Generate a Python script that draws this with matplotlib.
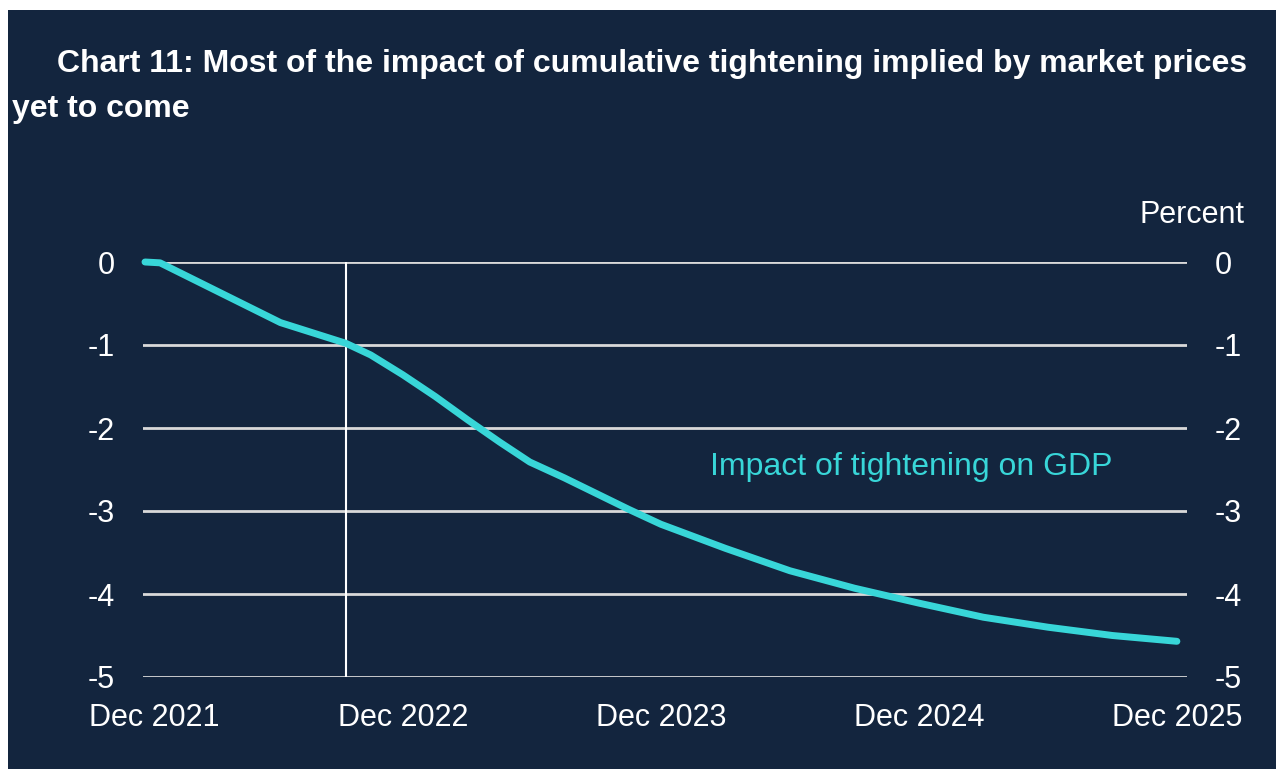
import matplotlib
matplotlib.use("Agg")
import matplotlib.pyplot as plt
from matplotlib.patches import Rectangle
from matplotlib.transforms import ScaledTranslation

plt.rcParams['font.family'] = ['Liberation Sans', 'DejaVu Sans']

# Months elapsed since Dec 2021 and the cumulative GDP impact (percent)
months = [0, 0.7, 6.3, 9.35, 10.5, 12, 13.5, 15, 16.5, 17.9, 19.5, 21, 22.5, 24,
          27, 30, 33, 36, 39, 42, 45, 48]
impact = [0.0, -0.01, -0.73, -0.98, -1.12, -1.36, -1.62, -1.90, -2.17, -2.41,
          -2.60, -2.79, -2.98, -3.16, -3.45, -3.72, -3.93, -4.11, -4.28, -4.40,
          -4.50, -4.57]

year_ticks = [0, 12, 24, 36, 48]
year_labels = ['Dec 2021', 'Dec 2022', 'Dec 2023', 'Dec 2024', 'Dec 2025']
y_ticks = [0, -1, -2, -3, -4, -5]
latest_month = 9.35

title_line1 = 'Chart 11: Most of the impact of cumulative tightening implied by market prices'
title_line2 = 'yet to come'
series_label = 'Impact of tightening on GDP'

navy = '#13253E'
teal = '#38D6D8'
grid = '#D9D9D9'

W, H = 1276, 769
fig = plt.figure(figsize=(W / 100, H / 100), dpi=100)
fig.patch.set_facecolor('white')
fig.patches.append(Rectangle((8 / W, 0), 1, 1 - 10 / H, transform=fig.transFigure,
                             facecolor=navy, edgecolor='none', zorder=-10))

ax = fig.add_axes([143 / W, 1 - 677 / H, (1187 - 143) / W, (677 - 262) / H])
ax.set_facecolor(navy)
ax.set_xlim(-0.093, 48.47)
ax.set_ylim(-5, 0)

for v in y_ticks:
    ax.axhline(v, color=grid, lw=2, zorder=1)
ax.axvline(latest_month, color='white', lw=1.5, zorder=1)

ax.plot(months, impact, color=teal, lw=5, solid_capstyle='round',
        solid_joinstyle='round', clip_on=False, zorder=3)

for s in ax.spines.values():
    s.set_visible(False)

ax.set_yticks(y_ticks)
ax.set_yticklabels([str(v) for v in y_ticks])
ax.tick_params(axis='y', length=0, pad=20, labelsize=22, colors='white',
               labelright=True, labelleft=True)
ax.set_xticks(year_ticks)
ax.set_xticklabels(year_labels)
ax.tick_params(axis='x', length=0, pad=19, labelsize=22, colors='white')

# keep the first date label clear of the left-hand value labels
first = ax.get_xticklabels()[0]
first.set_transform(first.get_transform() + ScaledTranslation(0.09, 0, fig.dpi_scale_trans))

fig.text(1244 / W, 1 - 215 / H, 'Percent', ha='right', va='center',
         fontsize=22, color='white')

ax.text(26.3, -2.47, series_label, ha='left', va='center', fontsize=23, color=teal)

fig.text(57 / W, 1 - 72 / H, title_line1, ha='left', va='baseline', fontsize=23,
         fontweight='bold', color='white')
fig.text(12 / W, 1 - 117 / H, title_line2, ha='left', va='baseline', fontsize=23,
         fontweight='bold', color='white')

fig.savefig('out.png', dpi=100, facecolor=fig.get_facecolor())
